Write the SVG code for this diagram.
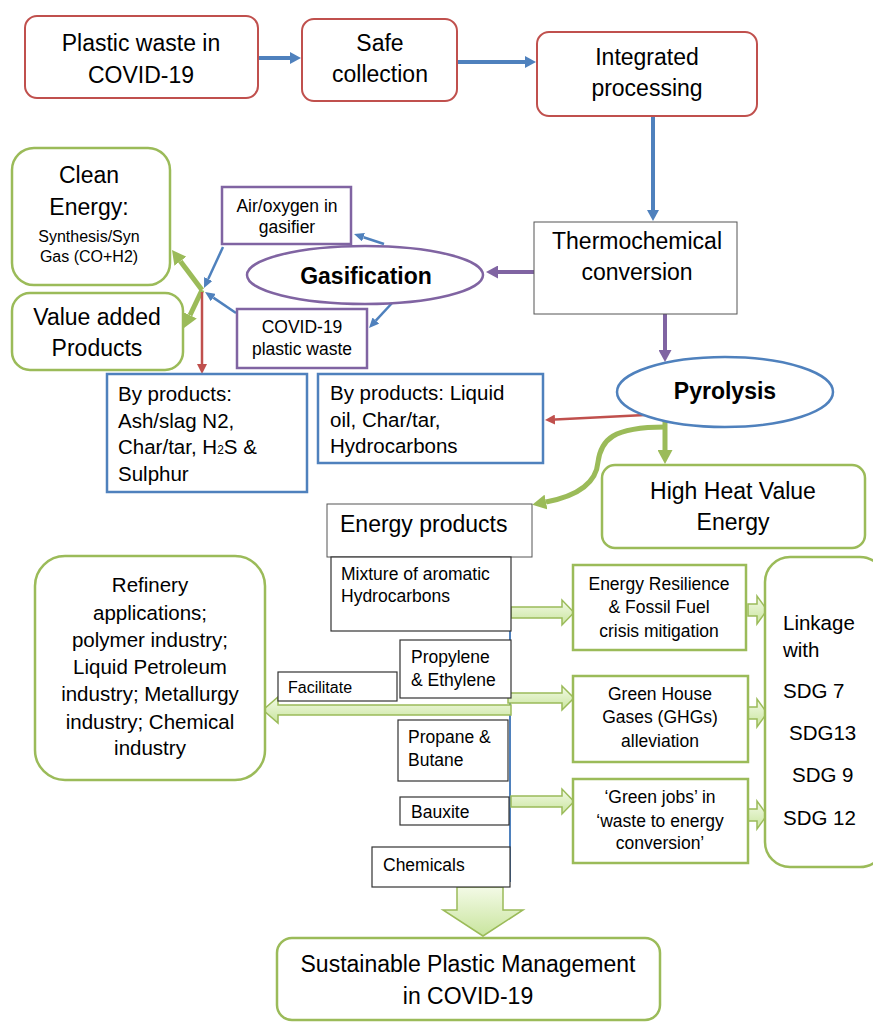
<svg xmlns="http://www.w3.org/2000/svg" width="873" height="1022" viewBox="0 0 873 1022">
<style>
text{font-family:"Liberation Sans",Arial,sans-serif;fill:#000}
.c{text-anchor:middle}
.f23{font-size:23px}
.f21{font-size:20.5px}
.f17{font-size:17.5px}
.f16{font-size:16px}
.b{font-weight:bold}
.red{fill:#fff;stroke:#c0504d;stroke-width:2}
.grn{fill:#fff;stroke:#9bbb59;stroke-width:2.5}
.blu{fill:#fff;stroke:#4f81bd;stroke-width:2.5}
.pur{fill:#fff;stroke:#8064a2;stroke-width:2.5}
.blk{fill:#fff;stroke:#555;stroke-width:1}
.blk2{fill:#fff;stroke:#333;stroke-width:1.2}
.ln-b{stroke:#4f81bd;stroke-width:4;fill:none}
.ln-bt{stroke:#4f81bd;stroke-width:2.5;fill:none}
.ln-p{stroke:#8064a2;stroke-width:4;fill:none}
.ln-r{stroke:#c0504d;stroke-width:2.5;fill:none}
.ln-g{stroke:#9bbb59;stroke-width:5;fill:none}
.blk-arrow{fill:url(#gg);stroke:#9bbb59;stroke-width:1.5}
</style>
<defs>
<linearGradient id="gg" x1="0" y1="0" x2="0" y2="1">
<stop offset="0" stop-color="#f3fae6"/>
<stop offset="1" stop-color="#c9e59e"/>
</linearGradient>
<marker id="mb" markerWidth="11" markerHeight="12" refX="0" refY="6" orient="auto" markerUnits="userSpaceOnUse"><path d="M0,0 L11,6 L0,12 z" fill="#4f81bd"/></marker>
<marker id="mbt" markerWidth="10" markerHeight="9" refX="0" refY="4.5" orient="auto" markerUnits="userSpaceOnUse"><path d="M0,0 L10,4.5 L0,9 z" fill="#4f81bd"/></marker>
<marker id="mp" markerWidth="12" markerHeight="13" refX="0" refY="6.5" orient="auto" markerUnits="userSpaceOnUse"><path d="M0,0 L12,6.5 L0,13 z" fill="#8064a2"/></marker>
<marker id="mr" markerWidth="10" markerHeight="10" refX="0" refY="5" orient="auto" markerUnits="userSpaceOnUse"><path d="M0,0 L10,5 L0,10 z" fill="#c0504d"/></marker>
<marker id="mg" markerWidth="14" markerHeight="15" refX="0" refY="7.5" orient="auto" markerUnits="userSpaceOnUse"><path d="M0,0 L14,7.5 L0,15 z" fill="#9bbb59"/></marker>
</defs>

<g id="connectors">
<line x1="510" y1="550" x2="510" y2="882" stroke="#4f81bd" stroke-width="2"/>
<line class="ln-b" x1="258" y1="58" x2="290" y2="58" marker-end="url(#mb)"/>
<line class="ln-b" x1="457" y1="62" x2="525" y2="62" marker-end="url(#mb)"/>
<line class="ln-b" x1="653" y1="116" x2="653" y2="210" marker-end="url(#mb)"/>
<line class="ln-p" x1="534" y1="272" x2="498" y2="272" marker-end="url(#mp)"/>
<line class="ln-p" x1="665" y1="314" x2="665" y2="350" marker-end="url(#mp)"/>
<line class="ln-bt" x1="223" y1="247" x2="208.2" y2="279" marker-end="url(#mbt)"/>
<line class="ln-bt" x1="384" y1="244" x2="363.5" y2="237.2" marker-end="url(#mbt)"/>
<line class="ln-bt" x1="236" y1="313" x2="213.3" y2="297.6" marker-end="url(#mbt)"/>
<line class="ln-bt" x1="393" y1="302" x2="375.8" y2="320.6" marker-end="url(#mbt)"/>
<line class="ln-g" x1="202" y1="290" x2="180.4" y2="261.2" marker-end="url(#mg)"/>
<line class="ln-g" x1="202" y1="290" x2="190" y2="315.3" marker-end="url(#mg)"/>
<line class="ln-r" x1="202" y1="292" x2="202" y2="364" marker-end="url(#mr)"/>
<line class="ln-r" x1="665" y1="414" x2="555" y2="419.5" marker-end="url(#mr)"/>
<line class="ln-g" x1="665" y1="414" x2="665" y2="450" marker-end="url(#mg)"/>
<path class="ln-g" d="M665,427 C612,427 601,440 598,462 C596,486 572,497 546,502" marker-end="url(#mg)"/>
<polygon class="blk-arrow" points="511,607 562,607 562,600 574,612.5 562,625 562,618 511,618"/>
<polygon class="blk-arrow" points="508,693 562,693 562,686 574,698 562,710 562,703 508,703"/>
<polygon class="blk-arrow" points="511,796 562,796 562,789 574,801.5 562,814 562,807 511,807"/>
<polygon class="blk-arrow" points="748,604 757,604 757,596 767,610 757,624 757,616 748,616"/>
<polygon class="blk-arrow" points="748,707 757,707 757,699 767,713 757,727 757,719 748,719"/>
<polygon class="blk-arrow" points="748,809 757,809 757,801 767,815 757,829 757,821 748,821"/>
<polygon class="blk-arrow" points="511,705 278,705 278,697 263,710 278,723 278,715 511,715"/>
<polygon class="blk-arrow" points="457,887 503,887 503,910 523,910 483,936 443,910 457,910"/>
</g>

<g id="n-plastic"><rect class="red" x="25" y="16" width="233" height="82" rx="12"/>
<text class="c f23" x="141" y="51">Plastic waste in</text><text class="c f23" x="141" y="83">COVID-19</text></g>
<g id="n-safe"><rect class="red" x="302" y="19" width="155" height="82" rx="12"/>
<text class="c f23" x="380" y="51">Safe</text><text class="c f23" x="380" y="82">collection</text></g>
<g id="n-integrated"><rect class="red" x="537" y="32" width="220" height="84" rx="12"/>
<text class="c f23" x="647" y="65">Integrated</text><text class="c f23" x="647" y="96">processing</text></g>
<g id="n-thermo"><rect class="blk" x="534" y="222" width="203" height="92"/>
<text class="c f23" x="637" y="249">Thermochemical</text><text class="c f23" x="637" y="280">conversion</text></g>
<g id="n-gasification"><ellipse class="pur" cx="365" cy="275" rx="118" ry="29"/>
<text class="c f23 b" x="366" y="284">Gasification</text></g>
<g id="n-pyrolysis"><ellipse class="blu" cx="725" cy="392" rx="108" ry="35"/>
<text class="c f23 b" x="725" y="399">Pyrolysis</text></g>
<g id="n-air"><rect class="pur" x="222" y="187" width="129" height="57"/>
<text class="c f17" x="287" y="212">Air/oxygen in</text><text class="c f17" x="287" y="233">gasifier</text></g>
<g id="n-covidwaste"><rect class="pur" x="237" y="309" width="130" height="59"/>
<text class="c f17" x="302" y="333">COVID-19</text><text class="c f17" x="302" y="355">plastic waste</text></g>
<g id="n-clean"><rect class="grn" x="12" y="148" width="158" height="137" rx="22"/>
<text class="c f23" x="89" y="183">Clean</text><text class="c f23" x="89" y="215">Energy:</text>
<text class="c f16" x="89" y="242">Synthesis/Syn</text><text class="c f16" x="89" y="262">Gas (CO+H2)</text></g>
<g id="n-value"><rect class="grn" x="12" y="293" width="171" height="77" rx="18"/>
<text class="c f23" x="97" y="325">Value added</text><text class="c f23" x="97" y="356">Products</text></g>
<g id="n-byprod1"><rect class="blu" x="107" y="374" width="200" height="118"/>
<text class="f21" x="118" y="401">By products:</text><text class="f21" x="118" y="428">Ash/slag N2,</text>
<text class="f21" x="118" y="454">Char/tar, H<tspan font-size="12">2</tspan>S &amp;</text><text class="f21" x="118" y="481">Sulphur</text></g>
<g id="n-byprod2"><rect class="blu" x="318" y="374" width="225" height="89"/>
<text class="f21" x="330" y="400">By products: Liquid</text><text class="f21" x="330" y="427">oil, Char/tar,</text>
<text class="f21" x="330" y="453">Hydrocarbons</text></g>
<g id="n-highheat"><rect class="grn" x="602" y="465" width="263" height="83" rx="13"/>
<text class="c f23" x="733" y="499">High Heat Value</text><text class="c f23" x="733" y="530">Energy</text></g>
<g id="n-energyprod"><rect class="blk" x="327" y="504" width="205" height="53"/>
<text class="f23" x="340" y="532">Energy products</text></g>
<g id="n-mixture"><rect class="blk2" x="331" y="557" width="180" height="74"/>
<text class="f17" x="341" y="580">Mixture of aromatic</text><text class="f17" x="341" y="602">Hydrocarbons</text></g>
<g id="n-propylene"><rect class="blk2" x="400" y="640" width="111" height="58"/>
<text class="f17" x="411" y="663">Propylene</text><text class="f17" x="411" y="686">&amp; Ethylene</text></g>
<g id="n-facilitate"><rect class="blk2" x="278" y="672" width="119" height="29"/>
<text class="f16" x="288" y="693">Facilitate</text></g>
<g id="n-propane"><rect class="blk2" x="398" y="720" width="110" height="61"/>
<text class="f17" x="408" y="743">Propane &amp;</text><text class="f17" x="408" y="766">Butane</text></g>
<g id="n-bauxite"><rect class="blk2" x="400" y="797" width="109" height="28"/>
<text class="f17" x="411" y="818">Bauxite</text></g>
<g id="n-chemicals"><rect class="blk2" x="372" y="847" width="138" height="40"/>
<text class="f17" x="383" y="871">Chemicals</text></g>
<g id="n-refinery"><rect class="grn" x="35" y="556" width="230" height="224" rx="30"/>
<text class="c f21" x="150" y="592">Refinery</text><text class="c f21" x="150" y="620">applications;</text>
<text class="c f21" x="150" y="647">polymer industry;</text><text class="c f21" x="150" y="674">Liquid Petroleum</text>
<text class="c f21" x="150" y="701">industry; Metallurgy</text><text class="c f21" x="150" y="729">industry; Chemical</text>
<text class="c f21" x="150" y="755">industry</text></g>
<g id="n-resilience"><rect class="grn" x="573" y="565" width="173" height="85"/>
<text class="c f17" x="659" y="590">Energy Resilience</text><text class="c f17" x="659" y="613">&amp; Fossil Fuel</text>
<text class="c f17" x="659" y="637">crisis mitigation</text></g>
<g id="n-ghg"><rect class="grn" x="573" y="676" width="175" height="86"/>
<text class="c f17" x="660" y="700">Green House</text><text class="c f17" x="660" y="723">Gases (GHGs)</text>
<text class="c f17" x="660" y="747">alleviation</text></g>
<g id="n-jobs"><rect class="grn" x="573" y="779" width="175" height="84"/>
<text class="c f17" x="660" y="803">‘Green jobs’ in</text><text class="c f17" x="660" y="827">‘waste to energy</text>
<text class="c f17" x="660" y="849">conversion’</text></g>
<g id="n-linkage"><rect class="grn" x="765" y="557" width="120" height="310" rx="25"/>
<text class="f21" x="783" y="630">Linkage</text><text class="f21" x="783" y="657">with</text>
<text class="f21" x="783" y="698">SDG 7</text><text class="f21" x="789" y="740">SDG13</text>
<text class="f21" x="792" y="782">SDG 9</text><text class="f21" x="783" y="825">SDG 12</text></g>
<g id="n-sustainable"><rect class="grn" x="277" y="938" width="383" height="82" rx="15"/>
<text class="c f23" x="468" y="972">Sustainable Plastic Management</text><text class="c f23" x="468" y="1004">in COVID-19</text></g>
</svg>
